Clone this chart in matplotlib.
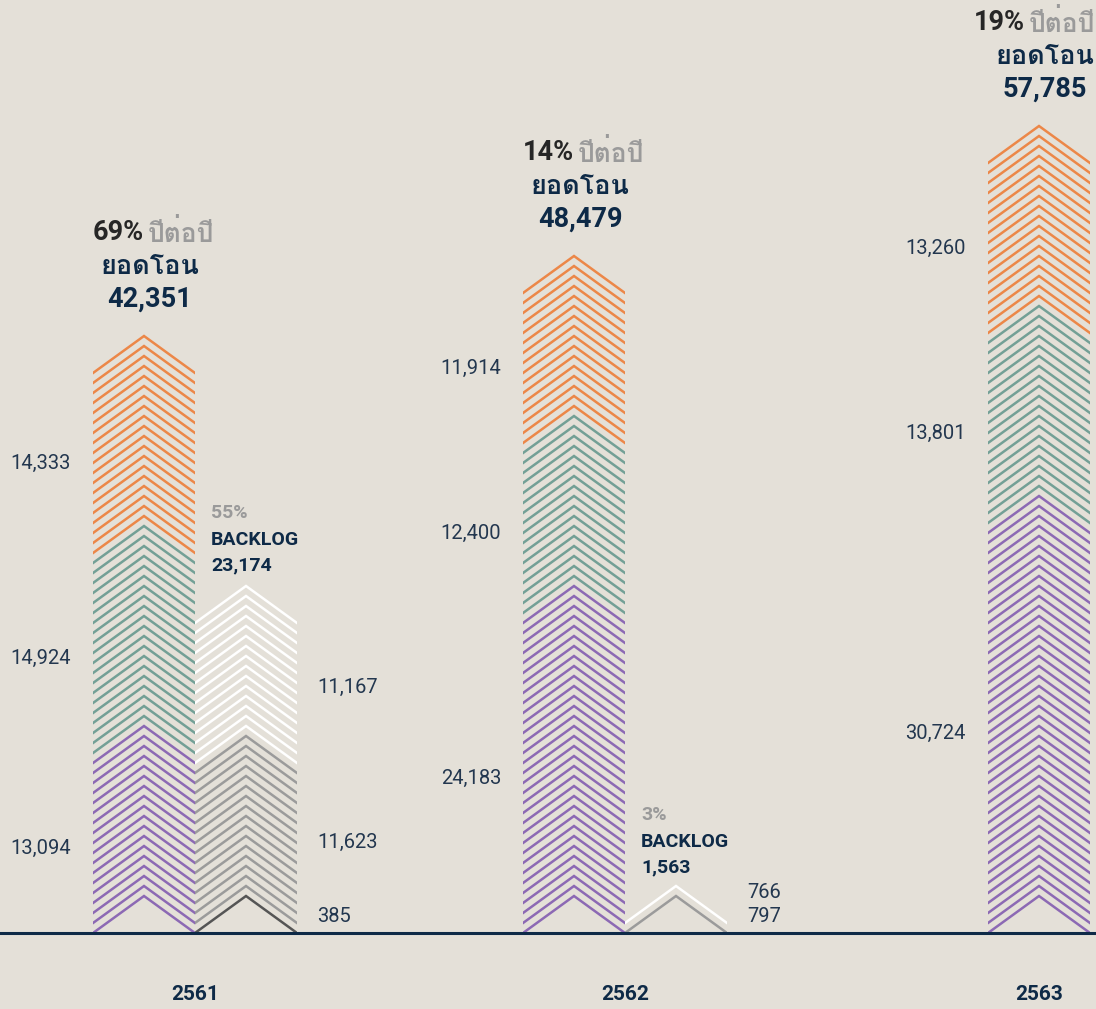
import matplotlib.pyplot as plt
from matplotlib import font_manager
from matplotlib.ft2font import FT2Font
from matplotlib.patches import Rectangle

# ---- data ----
years = ['2561', '2562', '2563']
growth = ['69%', '14%', '19%']
transfer_total = [42351, 48479, 57785]
transfer_purple = [13094, 24183, 30724]
transfer_teal = [14924, 12400, 13801]
transfer_orange = [14333, 11914, 13260]

backlog_share = ['55%', '3%', None]
backlog_total = [23174, 1563, None]
backlog_dark = [385, 0, 0]
backlog_gray = [11623, 797, 0]
backlog_white = [11167, 766, 0]

# ---- style ----
BG = '#E4E0D8'
NAVY = '#0E2A47'
LABEL = '#23374F'
C_PURPLE = '#8C69B4'
C_TEAL = '#73A096'
C_ORANGE = '#EC8748'
C_DARK = '#555555'
C_GRAY = '#9B9B9B'
C_WHITE = '#FFFFFF'

UNIT = 745           # value per chevron line
PX = UNIT / 10.0     # value units per pixel
RISE = 37 * PX       # chevron height
BAR_W = 102
group_left = [93, 523, 988]

# find a font that has Thai glyphs, if any
thai_font = None
for f in font_manager.fontManager.ttflist:
    try:
        if 0x0E22 in FT2Font(f.fname).get_charmap():
            thai_font = f.name
            break
    except Exception:
        pass
fam = ['Roboto'] + ([thai_font] if thai_font else []) + ['DejaVu Sans']

fig = plt.figure(figsize=(10.96, 10.09), dpi=100, facecolor=BG)
ax = fig.add_axes([0, 0, 1, 1])
ax.set_facecolor(BG)
ax.set_xlim(0, 1096)
ax.set_ylim(-76 * PX, 933 * PX)
ax.axis('off')
renderer = fig.canvas.get_renderer()


def chevron_stack(x0, values, colors, label_side='left'):
    """draw stacked chevron lines; returns top peak height"""
    clip = Rectangle((x0, -5 * PX), BAR_W, 2000 * PX, transform=ax.transData)
    k = 0
    last_label = None
    for v, c in zip(values, colors):
        if v <= 0:
            continue
        n = max(1, round(v / UNIT))
        lo = k * UNIT
        for i in range(n):
            y = (k + i) * UNIT
            ln, = ax.plot([x0 - 4, x0 + BAR_W / 2, x0 + BAR_W + 4],
                          [y - 4 * RISE / 51, y + RISE, y - 4 * RISE / 51],
                          color=c, lw=1.8, solid_joinstyle='miter', solid_capstyle='butt')
            ln.set_clip_path(clip)
        k += n
        hi = (k - 1) * UNIT
        ly = (lo + hi) / 2
        if label_side == 'right':
            ly = max(ly + 6 * PX, 16 * PX)
        if last_label is not None and ly - last_label < 25 * PX:
            ly = last_label + 25 * PX
        last_label = ly
        txt = f'{v:,}'
        if label_side == 'left':
            ax.text(x0 - 22, ly, txt, ha='right', va='center', fontsize=14.5,
                    color=LABEL, family=fam)
        else:
            ax.text(x0 + BAR_W + 20, ly, txt, ha='left', va='center', fontsize=14.5,
                    color=LABEL, family=fam)
    return (k - 1) * UNIT + RISE


for i, yr in enumerate(years):
    x0 = group_left[i]
    top = chevron_stack(x0, [transfer_purple[i], transfer_teal[i], transfer_orange[i]],
                        [C_PURPLE, C_TEAL, C_ORANGE])
    cx = x0 + BAR_W / 2
    # title block
    ax.text(cx + 6, top + 37 * PX, f'{transfer_total[i]:,}', ha='center', va='center',
            fontsize=19.5, fontweight='bold', color=NAVY, family=fam)
    ax.text(cx + 6, top + 70 * PX, 'ยอดโอน', ha='center', va='center',
            fontsize=19.5, fontweight='bold', color=NAVY, family=fam)
    th = ax.text(cx, top + 103 * PX, 'ปีต่อปี', ha='left', va='center',
                 fontsize=19, fontweight='bold', color='#9A9A9A', family=fam)
    w = th.get_window_extent(renderer).width
    split = min(cx + 2, 1093 - w)
    th.set_x(split + 2)
    ax.text(split - 2, top + 103 * PX, growth[i], ha='right', va='center',
            fontsize=19.5, fontweight='bold', color='#262626', family=fam)

    if backlog_total[i]:
        bx = x0 + BAR_W
        btop = chevron_stack(bx, [backlog_dark[i], backlog_gray[i], backlog_white[i]],
                             [C_DARK, C_GRAY, C_WHITE], label_side='right')
        if backlog_total[i] < 5000:
            btop = 45 * PX
        ax.text(bx + 16, btop + 21 * PX, f'{backlog_total[i]:,}', ha='left', va='center',
                fontsize=14, fontweight='bold', color=NAVY, family=fam)
        ax.text(bx + 16, btop + 46 * PX, 'BACKLOG', ha='left', va='center',
                fontsize=14, fontweight='bold', color=NAVY, family=fam)
        ax.text(bx + 16, btop + 73 * PX, backlog_share[i], ha='left', va='center',
                fontsize=14, fontweight='bold', color='#9A9A9A', family=fam)
        xl = bx
    else:
        xl = x0 + BAR_W / 2
    ax.text(xl, -62 * PX, yr, ha='center', va='center', fontsize=15,
            fontweight='bold', color=NAVY, family=fam)

ax.axhline(0, color=NAVY, lw=2.2)

fig.savefig('out.png', dpi=100, facecolor=BG)
